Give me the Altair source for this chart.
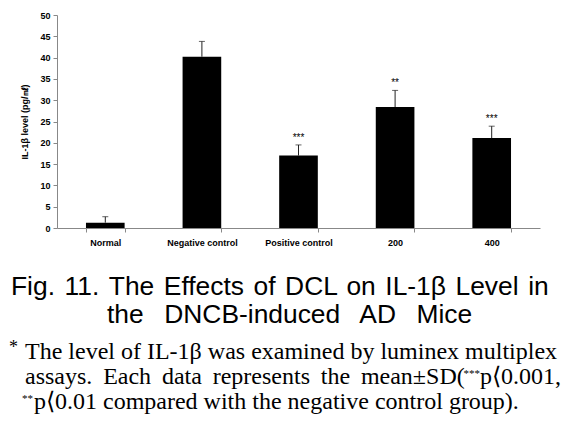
import altair as alt
import pandas as pd

groups = ["Normal", "Negative control", "Positive control", "200", "400"]
means = [1.25, 40.2, 17.0, 28.4, 21.1]
sds = [1.4, 3.6, 2.5, 3.9, 2.8]
stars = ["", "", "***", "**", "***"]
y_ticks = [0, 5, 10, 15, 20, 25, 30, 35, 40, 45, 50]

y_title = "IL-1\u03b2 level (pg/\u3396)"
cap1 = "Fig. 11. The Effects of DCL on IL-1\u03b2 Level in"
cap2 = "the DNCB-induced AD Mice"
note1a = "*"
note1b = "The level of IL-1\u03b2 was examined by luminex multiplex"
note2a = "assays. Each data represents the mean\u00b1SD("
note2b = "***"
note2c = "p\u27e80.001,"
note3a = "**"
note3b = "p\u27e80.01 compared with the negative control group)."

df = pd.DataFrame({
    "group": groups,
    "mean": means,
    "sd": sds,
    "star": stars,
})
df["upper"] = df["mean"] + df["sd"]

xaxis = alt.Axis(labelAngle=0, tickBand="extent", labelFont="Liberation Sans",
                 labelFontWeight="bold", labelFontSize=9, labelColor="black",
                 labelPadding=6, tickSize=4, domainColor="#888", tickColor="#888")
xscale = alt.Scale(paddingInner=0.6, paddingOuter=0.3)
yaxis = alt.Axis(values=y_ticks, labelOverlap=False, grid=False,
                 labelFont="Liberation Sans",
                 labelFontWeight="bold", labelFontSize=9, labelColor="black",
                 titleFont="Liberation Sans", titleFontWeight="bold", titleFontSize=9,
                 titleColor="black", titlePadding=10, tickSize=4, labelPadding=3,
                 domainColor="#888", tickColor="#888")
yscale = alt.Scale(domain=[0, 50], nice=False)


def X():
    return alt.X("group:N", sort=groups, title=None, scale=xscale, axis=xaxis)


def Y(field):
    return alt.Y(field, scale=yscale, title=y_title, axis=yaxis)


base = alt.Chart(df)
bars = base.mark_bar(color="black").encode(x=X(), y=Y("mean:Q"))
err = base.mark_rule(color="#222", strokeWidth=1).encode(x=X(), y=Y("mean:Q"), y2="upper:Q")
cap = base.mark_tick(color="#222", thickness=1, size=6).encode(x=X(), y=Y("upper:Q"))
txt = base.mark_text(font="Liberation Sans", fontSize=10, dy=-4, baseline="alphabetic",
                     color="black").encode(x=X(), y=Y("upper:Q"), text="star:N")

one = pd.DataFrame({"k": [0]})


def label(t, x, y, size, font, align="left", baseline="alphabetic"):
    return alt.Chart(one).mark_text(
        text=t, font=font, fontSize=size, align=align, baseline=baseline, color="black"
    ).encode(x=alt.value(x), y=alt.value(y))


sans = "Liberation Sans"
serif = "Liberation Serif"
sp1 = " \u200a"
sp2 = "\u2002 "
sp3 = " \u2009"
layers = [
    bars, err, cap, txt,
    label(cap1.replace(" ", sp1), -46, 280, 26.4, sans),
    label(cap2.replace(" ", sp2), 50, 308, 26.4, sans),
    label(note1a, -48, 338, 18, serif),
    label(note1b, -32, 344, 24, serif),
    label(note2a.replace(" ", sp3), -32, 369, 24, serif),
    label(note2b, 423, 353, 11, serif, align="right", baseline="top"),
    label(note2c, 504, 369, 24, serif, align="right"),
    label(note3a, -35, 378, 11, serif, baseline="top"),
    label(note3b, -23, 394, 24, serif),
]

chart = alt.layer(*layers).properties(
    width=483, height=213,
    autosize=alt.AutoSizeParams(type="none"),
    padding={"left": 49, "top": 7, "right": 23, "bottom": 190},
    background="white",
).configure_view(stroke=None)

chart.save("out.html", embed_options={"renderer": "svg", "actions": False})
